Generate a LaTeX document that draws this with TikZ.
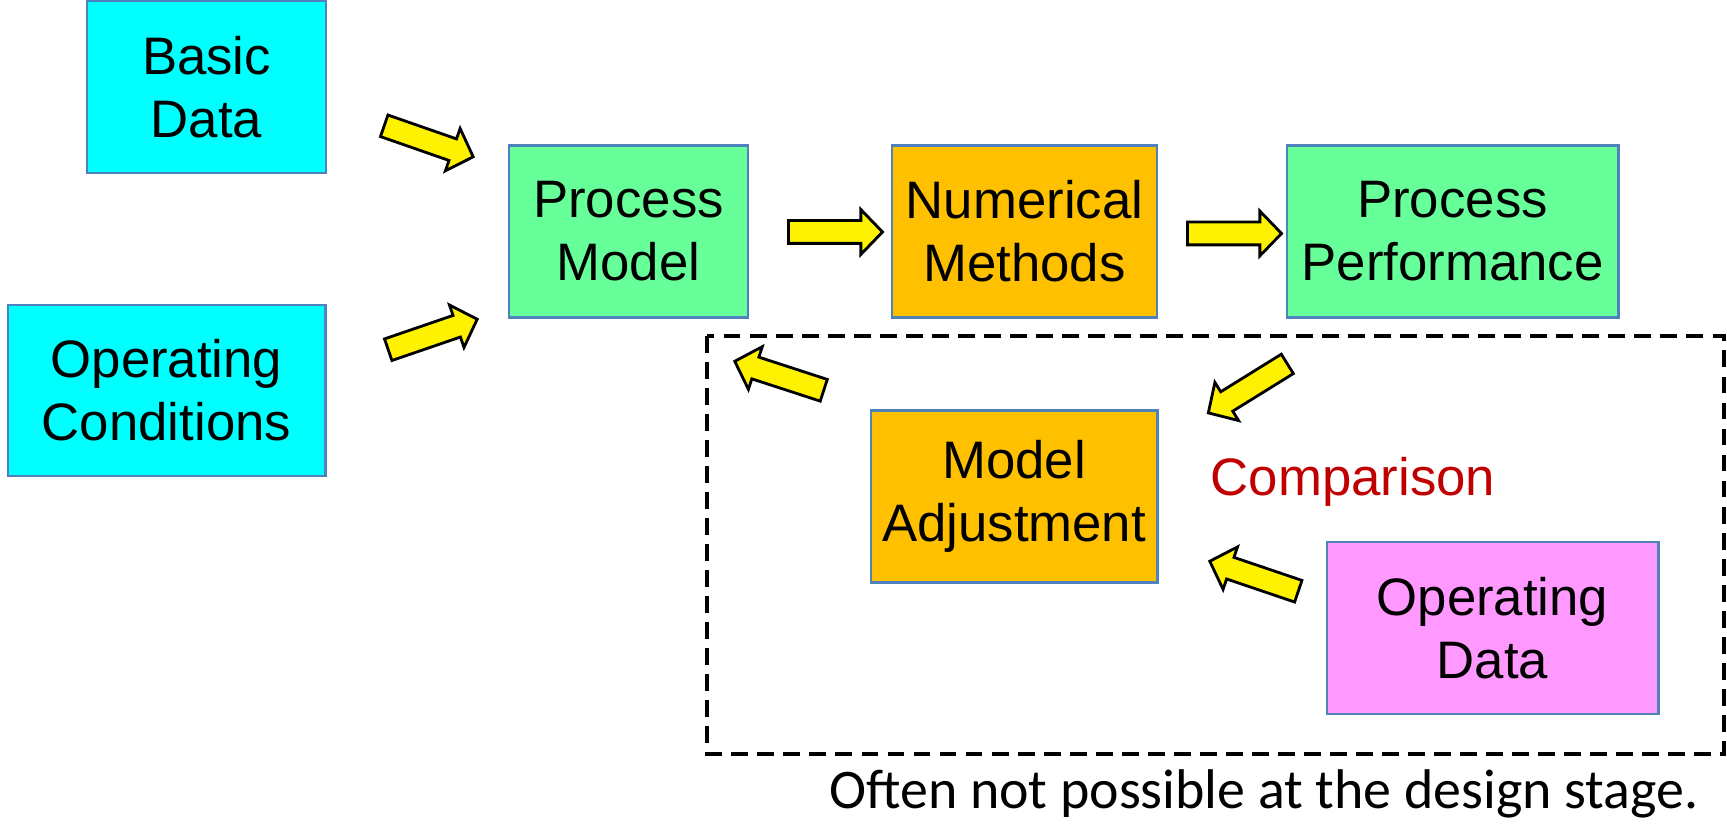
\documentclass[tikz,border=0pt]{standalone}
\usepackage{fontspec}
\setmainfont{Liberation Sans}
\newfontfamily\notefont{Carlito}
\usetikzlibrary{shapes.arrows, calc}
\definecolor{boxcyan}{RGB}{0, 255, 255}
\definecolor{boxgreen}{RGB}{102, 255, 153}
\definecolor{boxorange}{RGB}{255, 192, 0}
\definecolor{boxpink}{RGB}{255, 153, 255}
\definecolor{boxedge}{RGB}{79, 129, 189}
\definecolor{cmpred}{RGB}{192, 0, 0}

\tikzset{
    stagebox/.style={draw=boxedge, line width=0.8pt, inner sep=0pt, align=center,
                     minimum height=1.72cm, font=\fontsize{15}{17.9}\selectfont},
    yarrow/.style={single arrow, draw=black, fill=yellow, line width=0.8pt,
                   inner sep=0.1cm, single arrow head extend=0.11cm,
                   single arrow tip angle=92, minimum width=0pt},
    dashframe/.style={draw=black, line width=0.9pt, dash pattern=on 4.8pt off 2.6pt},
}

% fat yellow arrow between two coordinates
\newcommand\blockarrow[2]{%
    \path let \p1=($(#2)-(#1)$), \n1={veclen(\x1,\y1)}, \n2={atan2(\y1,\x1)} in
        node[yarrow, minimum height=\n1, rotate=\n2] at ($(#1)!0.5!(#2)$) {};%
}

\begin{document}
\begin{tikzpicture}[x=0.01cm, y=-0.01cm]
    \useasboundingbox (0,0) rectangle (1727,825);

    % inputs
    \node[stagebox, fill=boxcyan, minimum width=2.39cm] (basic) at (206.5,87) {Basic\\Data};
    \node[stagebox, fill=boxcyan, minimum width=3.17cm, minimum height=1.71cm] (opcond) at (166.5,390.5) {Operating\\Conditions};

    % main chain
    \node[stagebox, fill=boxgreen, minimum width=2.39cm] (procmodel) at (628.5,231.5) {Process\\Model};
    \node[stagebox, fill=boxorange, minimum width=2.65cm] (nummeth) at (1024.5,231.5) {Numerical\\Methods};
    \node[stagebox, fill=boxgreen, minimum width=3.31cm] (procperf) at (1452.5,231.5) {Process\\Performance};

    % comparison loop
    \draw[dashframe] (707,336) rectangle (1724,754);
    \node[stagebox, fill=boxorange, minimum width=2.86cm] (modadj) at (1014,496.5) {Model\\Adjustment};
    \node[stagebox, fill=boxpink, minimum width=3.31cm] (opdata) at (1492.5,628) {Operating\\Data};
    \node[font=\fontsize{15}{17.9}\selectfont, text=cmpred, anchor=base] (cmp) at (1353,496) {Comparison};

    \node[font=\notefont\fontsize{15.9}{19}\selectfont, anchor=base] (note) at (1264,809) {Often not possible at the design stage.};

    % arrow ends
    \coordinate (a1s) at (379,124);    \coordinate (a1e) at (468,155);
    \coordinate (a2s) at (383,351.5);  \coordinate (a2e) at (472,321);
    \coordinate (a3s) at (783,232);    \coordinate (a3e) at (877,232);
    \coordinate (a4s) at (1182,233.5); \coordinate (a4e) at (1276,233.5);
    \coordinate (a5s) at (1292,361);   \coordinate (a5e) at (1213,410);
    \coordinate (a6s) at (829,392);    \coordinate (a6e) at (740,363);
    \coordinate (a7s) at (1303.5,593); \coordinate (a7e) at (1215,563);

    \blockarrow{a1s}{a1e}
    \blockarrow{a2s}{a2e}
    \blockarrow{a3s}{a3e}
    \blockarrow{a4s}{a4e}
    \blockarrow{a5s}{a5e}
    \blockarrow{a6s}{a6e}
    \blockarrow{a7s}{a7e}
\end{tikzpicture}
\end{document}
